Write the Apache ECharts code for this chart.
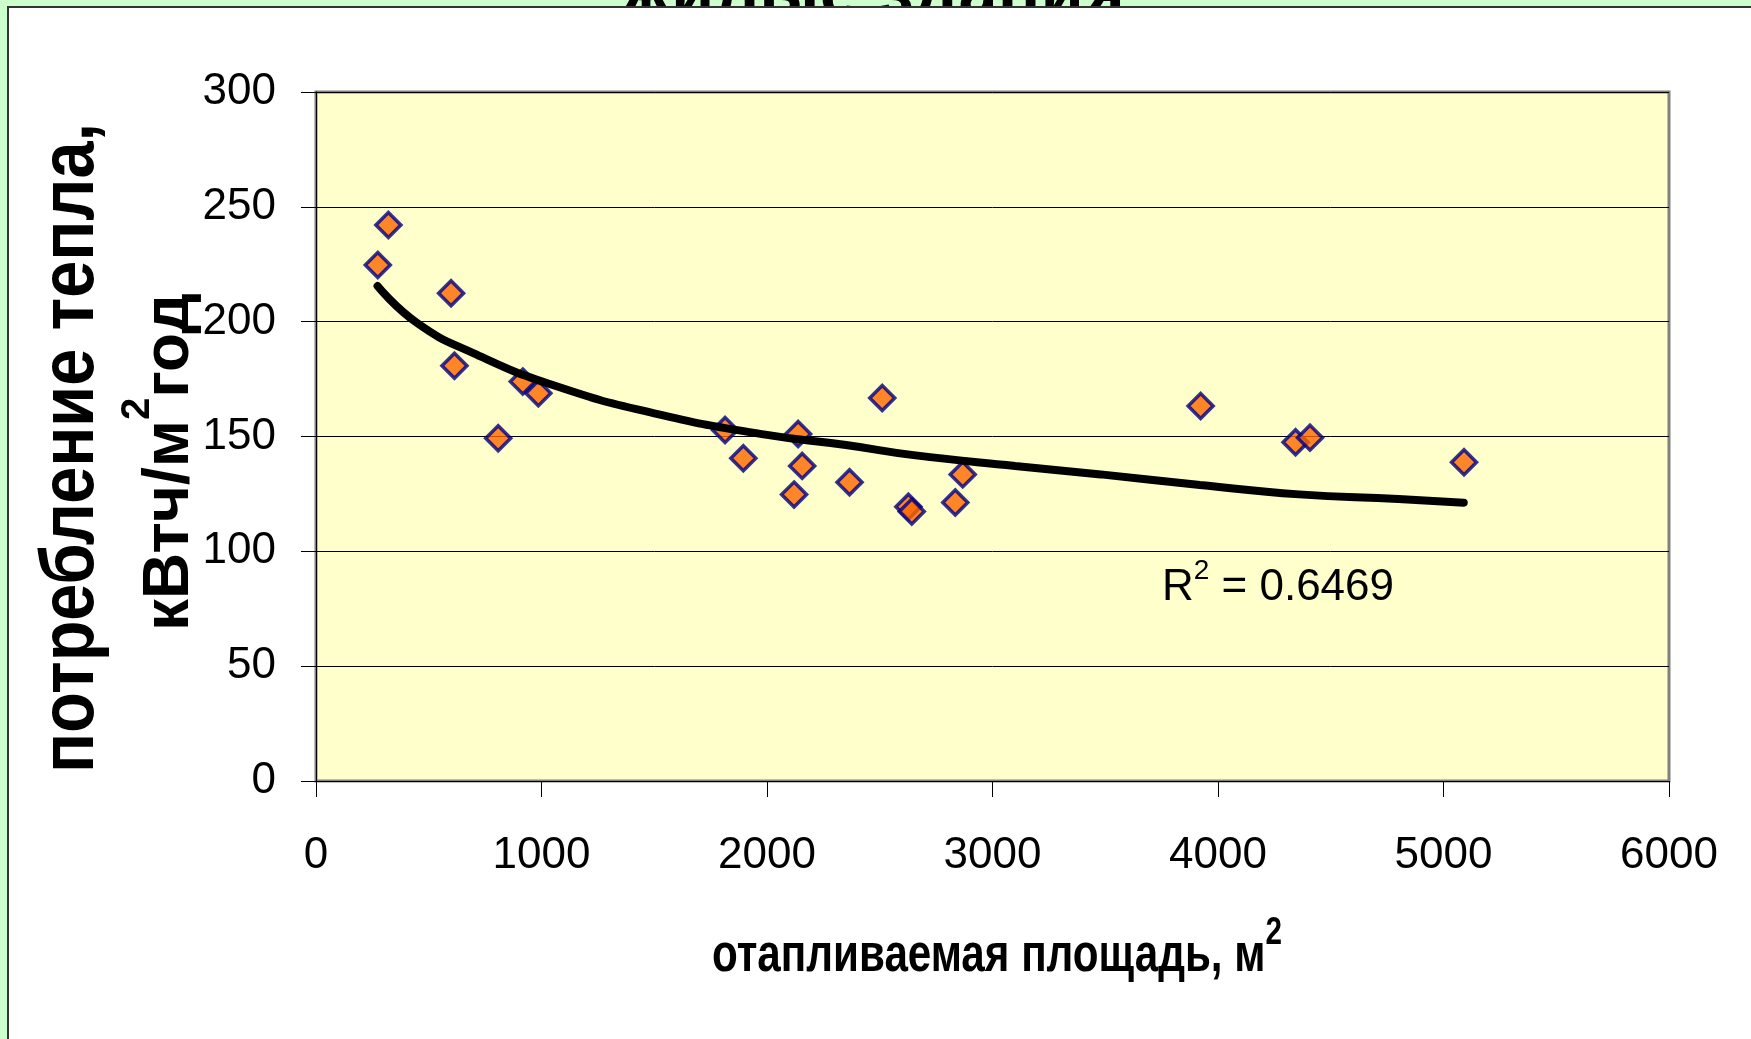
<!DOCTYPE html>
<html>
<head>
<meta charset="utf-8">
<script src="https://cdn.jsdelivr.net/npm/echarts@6/dist/echarts.min.js"></script>
<style>
  html, body { margin: 0; padding: 0; background: #ccffcc; }
  #chart { width: 1751px; height: 1039px; }
</style>
</head>
<body>
<div id="chart"></div>
<script>
// отапливаемая площадь, м2 (x) и потребление тепла, кВтч/м2год (y)
const areaX = [274, 321, 599, 614, 808, 917, 986, 1814, 1895, 2120, 2138,
               2156, 2366, 2511, 2627, 2642, 2835, 2868, 3923, 4344, 4408, 5091];
const heatY = [224.7, 242.1, 212.4, 180.8, 149.2, 173.9, 168.8, 152.8, 140.5, 124.7, 151.1,
               137.2, 130.1, 166.8, 119.4, 117.3, 121.3, 133.5, 163.3, 147.5, 149.5, 138.8];

// линия тренда
const trendX = [273, 450, 700, 1050, 1500, 2000, 2350, 2650, 3100, 3480, 3920, 4360, 4800, 5090];
const trendY = [215.5, 199.3, 186.2, 172.4, 160.1, 150.7, 146.3, 141.9, 137.2, 133.5, 128.9, 124.8, 122.8, 121.2];

const r2Value = '0.6469';
const r2Pos = [4266, 86];

const chartTitle = 'жилые здания';
const yTitle1 = 'потребление тепла,';
const yTitle2a = 'кВтч/м';
const yTitle2b = 'год';
const xTitle = 'отапливаемая площадь, м';

const FONT = '"Liberation Sans", Arial, sans-serif';

// ширина текста, чтобы сжать заголовки как в оригинале
const ctx = document.createElement('canvas').getContext('2d');
function textW(font, s) {
  ctx.font = font;
  return ctx.measureText(s).width;
}

const y1Scale = 650 / textW('bold 76px ' + FONT, yTitle1);
const y2Scale = 338 / (textW('bold 64px ' + FONT, yTitle2a + yTitle2b) + textW('bold 40px ' + FONT, '2'));
const xScale = 570 / (textW('bold 54px ' + FONT, xTitle) + textW('bold 38px ' + FONT, '2'));
const tScale = 504 / textW('bold 70px ' + FONT, chartTitle);

const scatterData = areaX.map((x, i) => [x, heatY[i]]);
const trendData = trendX.map((x, i) => [x, trendY[i]]);

const chart = echarts.init(document.getElementById('chart'));

const option = {
  backgroundColor: 'transparent',
  animation: false,
  grid: {
    left: 316, right: 82, top: 92, bottom: 258,
    show: true,
    backgroundColor: '#ffffcc',
    borderColor: '#808080',
    borderWidth: 3
  },
  xAxis: {
    type: 'value',
    min: 0, max: 6000, interval: 1000,
    axisLine: { show: true, lineStyle: { color: '#000', width: 1 } },
    axisTick: { show: true, length: 16, lineStyle: { color: '#000', width: 1 } },
    axisLabel: { fontFamily: FONT, fontSize: 44, color: '#000', margin: 53, formatter: v => String(v) },
    splitLine: { show: false }
  },
  yAxis: {
    type: 'value',
    min: 0, max: 300, interval: 50,
    axisLine: { show: true, lineStyle: { color: '#000', width: 1 } },
    axisTick: { show: true, length: 15, lineStyle: { color: '#000', width: 1 } },
    axisLabel: { fontFamily: FONT, fontSize: 44, color: '#000', margin: 40 },
    splitLine: { show: true, lineStyle: { color: '#000', width: 1 } }
  },
  graphic: [
    {
      type: 'text', z: -20,
      x: 873, y: -3, scaleX: tScale,
      style: { text: chartTitle, font: 'bold 70px ' + FONT, fill: '#000', align: 'center', verticalAlign: 'middle' }
    },
    {
      type: 'rect', z: -10,
      shape: { x: 8, y: 7, width: 1800, height: 1100 },
      style: { fill: '#fff', stroke: '#333', lineWidth: 2 }
    },
    {
      type: 'text',
      x: 72, y: 448, rotation: Math.PI / 2, scaleX: y1Scale,
      style: { text: yTitle1, font: 'bold 76px ' + FONT, fill: '#000', align: 'center', verticalAlign: 'middle' }
    },
    {
      type: 'text',
      x: 160, y: 462, rotation: Math.PI / 2, scaleX: y2Scale,
      style: {
        text: '{a|' + yTitle2a + '}{s|2}{a|' + yTitle2b + '}',
        align: 'center', verticalAlign: 'middle',
        rich: {
          a: { font: 'bold 64px ' + FONT, fill: '#000', verticalAlign: 'bottom', lineHeight: 84 },
          s: { font: 'bold 40px ' + FONT, fill: '#000', verticalAlign: 'top', lineHeight: 40 }
        }
      }
    },
    {
      type: 'text',
      x: 997, y: 949, scaleX: xScale,
      style: {
        text: '{a|' + xTitle + '}{s|2}',
        align: 'center', verticalAlign: 'middle',
        rich: {
          a: { font: 'bold 54px ' + FONT, fill: '#000', verticalAlign: 'bottom', lineHeight: 68 },
          s: { font: 'bold 38px ' + FONT, fill: '#000', verticalAlign: 'top', lineHeight: 38 }
        }
      }
    }
  ],
  series: [
    {
      type: 'scatter',
      z: 2,
      symbol: 'diamond',
      symbolSize: 25,
      itemStyle: { color: '#ff6600', borderColor: '#000080', borderWidth: 3.5 },
      data: scatterData
    },
    {
      type: 'line',
      z: 3,
      smooth: true,
      showSymbol: false,
      symbol: 'none',
      lineStyle: { color: '#000', width: 8, cap: 'round' },
      data: trendData,
      markPoint: {
        symbol: 'rect',
        symbolSize: 1,
        itemStyle: { color: 'transparent' },
        label: {
          show: true,
          position: 'inside',
          formatter: '{a|R}{s|2}{a| = ' + r2Value + '}',
          rich: {
            a: { fontFamily: FONT, fontSize: 44, color: '#000', verticalAlign: 'bottom', lineHeight: 52 },
            s: { fontFamily: FONT, fontSize: 28, color: '#000', verticalAlign: 'top', lineHeight: 28 }
          }
        },
        data: [{ coord: r2Pos }]
      }
    }
  ]
};

chart.setOption(option);
window.addEventListener('resize', () => chart.resize());
</script>
</body>
</html>
